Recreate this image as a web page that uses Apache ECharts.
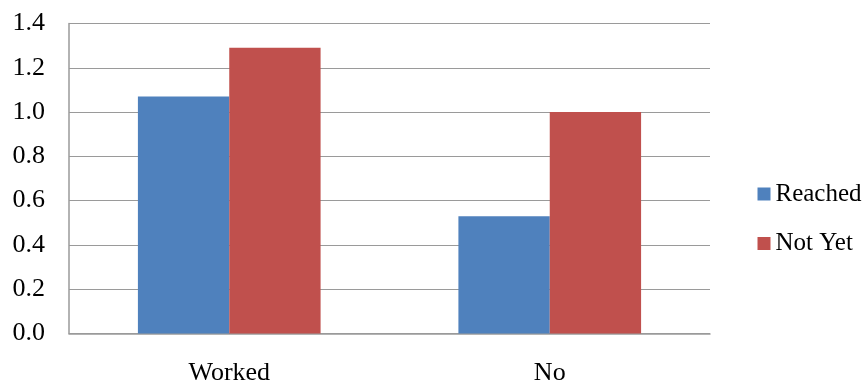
<!DOCTYPE html>
<html>
<head>
<meta charset="utf-8">
<script src="https://cdn.jsdelivr.net/npm/echarts@6/dist/echarts.min.js"></script>
<style>html,body{margin:0;padding:0;background:#fff;}#c{width:863px;height:388px;}</style>
</head>
<body>
<div id="c"></div>
<script>
const categories = ['Worked', 'No'];
const seriesNames = ['Reached', 'Not Yet'];
const reached = [1.07, 0.53];
const notYet = [1.29, 1.00];
const yTicks = { min: 0, max: 1.4, interval: 0.2 };

const font = 'Liberation Serif, Times New Roman, serif';
const chart = echarts.init(document.getElementById('c'));
chart.setOption({
  animation: false,
  backgroundColor: '#fff',
  textStyle: { fontFamily: font },
  grid: { left: 69, right: 153, top: 23.5, bottom: 54.5, containLabel: false },
  legend: {
    orient: 'vertical',
    left: 757.5,
    top: 181.5,
    padding: 0,
    itemWidth: 13,
    itemHeight: 13,
    itemGap: 24.5,
    icon: 'rect',
    textStyle: { fontFamily: font, fontSize: 25, color: '#000', lineHeight: 24 },
    data: seriesNames
  },
  xAxis: {
    type: 'category',
    data: categories,
    axisLine: { lineStyle: { color: '#9a9a9a', width: 1.5 } },
    axisTick: { show: false },
    axisLabel: { fontFamily: font, fontSize: 26, color: '#000', margin: 27 }
  },
  yAxis: {
    type: 'value',
    min: yTicks.min,
    max: yTicks.max,
    interval: yTicks.interval,
    axisLine: { show: true, lineStyle: { color: '#9a9a9a', width: 1.5 } },
    axisTick: { show: false },
    splitLine: { lineStyle: { color: '#9a9a9a', width: 1.2 } },
    axisLabel: { fontFamily: font, fontSize: 26, color: '#000', margin: 24, formatter: v => v.toFixed(1) }
  },
  series: [
    { name: seriesNames[0], type: 'bar', data: reached, barGap: '0%', barCategoryGap: '43%', itemStyle: { color: '#4F81BD' } },
    { name: seriesNames[1], type: 'bar', data: notYet, barGap: '0%', barCategoryGap: '43%', itemStyle: { color: '#C0504D' } }
  ]
});
</script>
</body>
</html>
